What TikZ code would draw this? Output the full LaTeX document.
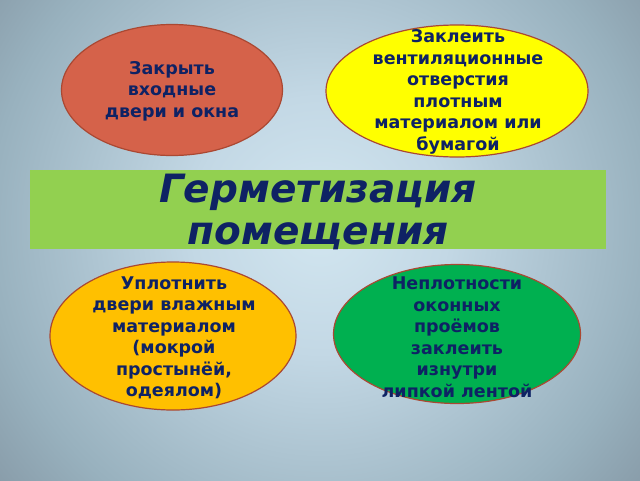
\documentclass[tikz,border=0pt]{standalone}
\usepackage{fontspec}
\setmainfont{DejaVu Sans}
\usetikzlibrary{shapes.geometric}
\definecolor{bg0}{RGB}{210,230,240}
\definecolor{bg1}{RGB}{195,216,229}
\definecolor{bg2}{RGB}{152,177,190}
\definecolor{bg3}{RGB}{125,141,154}
\definecolor{bg4}{RGB}{112,128,138}
\definecolor{navy}{RGB}{14,34,100}
\definecolor{cred}{RGB}{213,98,74}
\definecolor{cyel}{RGB}{255,255,0}
\definecolor{cban}{RGB}{146,208,80}
\definecolor{cgold}{RGB}{255,192,0}
\definecolor{cgrn}{RGB}{0,176,80}
\definecolor{cedge}{RGB}{170,72,50}
\pgfdeclareradialshading{bgshade}{\pgfpoint{0bp}{0bp}}{color(0bp)=(bg0); color(10bp)=(bg1); color(26bp)=(bg2); color(37bp)=(bg3); color(48bp)=(bg4); color(80bp)=(bg4)}
\begin{document}
\begin{tikzpicture}[x=1pt,y=-1pt,
  ell/.style={ellipse, draw=cedge, line width=1.2pt, inner sep=0pt},
  txt/.style={font=\fontsize{17.5}{21.5}\selectfont\bfseries, align=center, text=navy, inner sep=0pt},
  ttl/.style={font=\fontsize{39}{42}\selectfont\bfseries\itshape, align=center, text=navy, inner sep=0pt}]
\begin{scope}
\clip (0,0) rectangle (640,480);
\shade[shading=bgshade] (0,-95) rectangle (640,545);
\end{scope}
\useasboundingbox (0,0) rectangle (640,480);
\node[ell, fill=cred, minimum width=221pt, minimum height=131pt] (e1) at (172,90) {};
\node[ell, fill=cyel, minimum width=262pt, minimum height=132pt] (e2) at (457,91) {};
\node[fill=cban, minimum width=576pt, minimum height=79pt, inner sep=0pt] (b) at (318,209.5) {};
\node[ell, fill=cgold, minimum width=246pt, minimum height=148pt] (e3) at (173,336) {};
\node[ell, fill=cgrn, minimum width=247pt, minimum height=139pt] (e4) at (457,334) {};
\node[txt] (t1) at (172,91) {Закрыть\\входные\\двери и окна};
\node[txt] (t2) at (458,92) {Заклеить\\вентиляционные\\отверстия\\плотным\\материалом или\\бумагой};
\node[ttl] (tt) at (318,212) {Герметизация\\помещения};
\node[txt] (t3) at (174,338) {Уплотнить\\двери влажным\\материалом\\(мокрой\\простынёй,\\одеялом)};
\node[txt] (t4) at (457,337) {Неплотности\\оконных\\проёмов\\заклеить\\изнутри\\липкой лентой};
\end{tikzpicture}
\end{document}
